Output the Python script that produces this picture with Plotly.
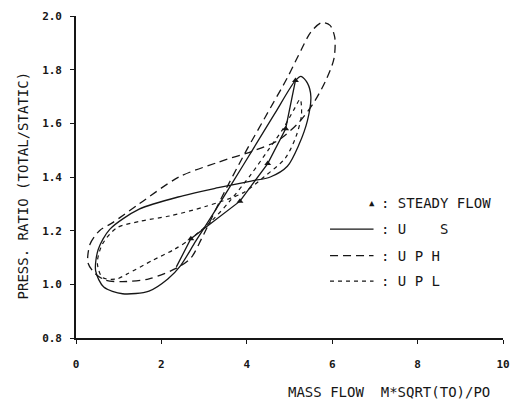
import plotly.graph_objects as go

# ---- data ----
steady_x = [2.35, 2.69, 3.84, 4.49, 4.91, 5.14]
steady_y = [1.065, 1.17, 1.31, 1.45, 1.58, 1.76]
steady_mx = [2.69, 3.84, 4.49, 4.91, 5.14]
steady_my = [1.17, 1.31, 1.45, 1.58, 1.76]

us_x = [5.14, 5.27, 5.42, 5.50, 5.42, 5.22, 4.95, 4.55, 4.10, 3.33, 2.50, 1.48, 0.79, 0.52, 0.46,
        0.65, 1.09, 1.71, 2.15, 2.45, 2.80, 3.20, 3.65, 4.15, 4.65, 5.14]
us_y = [1.76, 1.775, 1.75, 1.70, 1.61, 1.52, 1.44, 1.40, 1.385, 1.36, 1.33, 1.28, 1.205, 1.13, 1.05,
        0.99, 0.965, 0.975, 1.02, 1.07, 1.16, 1.26, 1.375, 1.505, 1.635, 1.76]

uph_x = [0.28, 0.33, 0.55, 0.86, 1.48, 2.41, 3.33, 4.20, 4.72, 5.20, 5.58, 5.85, 6.04, 6.06, 5.95,
         5.75, 5.50, 5.20, 4.95, 4.42, 3.96, 3.40, 2.94, 2.70, 2.41, 1.71, 1.09, 0.70, 0.45, 0.28]
uph_y = [1.08, 1.15, 1.20, 1.23, 1.30, 1.40, 1.455, 1.50, 1.535, 1.60, 1.68, 1.76, 1.84, 1.92, 1.965,
         1.975, 1.94, 1.85, 1.77, 1.62, 1.49, 1.32, 1.17, 1.10, 1.065, 1.02, 1.01, 1.015, 1.04, 1.08]

upl_x = [2.69, 3.20, 3.60, 4.10, 4.50, 4.85, 5.10, 5.25, 5.28, 5.15, 4.90, 4.40, 3.90, 3.03, 2.20,
         1.50, 0.95, 0.62, 0.50, 0.62, 0.95, 1.18, 1.80, 2.30, 2.69]
upl_y = [1.17, 1.24, 1.31, 1.41, 1.50, 1.58, 1.65, 1.69, 1.63, 1.55, 1.47, 1.40, 1.34, 1.29, 1.255,
         1.235, 1.21, 1.15, 1.08, 1.025, 1.02, 1.037, 1.09, 1.13, 1.17]

x_ticks = [0, 2, 4, 6, 8, 10]
y_ticks = [0.8, 1.0, 1.2, 1.4, 1.6, 1.8, 2.0]

legend_labels = [": STEADY FLOW", ": U    S", ": U P H", ": U P L"]

INK = "#161616"
FONT = "DejaVu Sans Mono"

fig = go.Figure()
fig.add_trace(go.Scatter(x=us_x, y=us_y, mode="lines", line=dict(color=INK, width=1.3, shape="spline", smoothing=0.8)))
fig.add_trace(go.Scatter(x=uph_x, y=uph_y, mode="lines", line=dict(color=INK, width=1.3, dash="8px,5px", shape="spline", smoothing=0.8)))
fig.add_trace(go.Scatter(x=upl_x, y=upl_y, mode="lines", line=dict(color=INK, width=1.2, dash="4px,4px", shape="spline", smoothing=0.8)))
fig.add_trace(go.Scatter(x=steady_x, y=steady_y, mode="lines", line=dict(color=INK, width=1.3)))
fig.add_trace(go.Scatter(x=steady_mx, y=steady_my, mode="markers",
                         marker=dict(symbol="triangle-up", size=6, color=INK)))

W, H = 520, 409
L, R, T, B = 76, 12, 10, 71
pw, ph = W - L - R, H - T - B


def px(xp):
    return (xp - L) / pw


def py(yp):
    return (H - B - yp) / ph


rows = [200, 227, 254, 280]
dashes = [None, "solid", "8px,5px", "4px,4px"]
shapes = []
annotations = []
for i, (ry, lab) in enumerate(zip(rows, legend_labels)):
    if dashes[i] is None:
        annotations.append(dict(x=px(375), y=py(ry), xref="paper", yref="paper", text="▲",
                                showarrow=False, font=dict(family=FONT, size=9, color=INK),
                                xanchor="center", yanchor="middle"))
    else:
        shapes.append(dict(type="line", xref="paper", yref="paper", x0=px(333), x1=px(377),
                           y0=py(ry), y1=py(ry), line=dict(color=INK, width=1.3, dash=dashes[i])))
    annotations.append(dict(x=px(383), y=py(ry), xref="paper", yref="paper", text=lab,
                            showarrow=False, font=dict(family=FONT, size=14, color=INK),
                            xanchor="left", yanchor="middle"))

annotations.append(dict(x=px(393), y=py(393), xref="paper", yref="paper",
                        text="MASS FLOW  M*SQRT(TO)/PO", showarrow=False,
                        font=dict(family=FONT, size=14, color=INK), xanchor="center", yanchor="middle"))
annotations.append(dict(x=px(22), y=py(183), xref="paper", yref="paper",
                        text="PRESS. RATIO (TOTAL/STATIC)", showarrow=False, textangle=-90,
                        font=dict(family=FONT, size=14, color=INK), xanchor="center", yanchor="middle"))

fig.update_layout(
    width=W, height=H,
    margin=dict(l=L, r=R, t=T, b=B, pad=0),
    paper_bgcolor="white", plot_bgcolor="white",
    showlegend=False,
    shapes=shapes, annotations=annotations,
    xaxis=dict(range=[0, 10], tickvals=x_ticks, ticktext=[str(v) for v in x_ticks],
               showgrid=False, zeroline=False, showline=True, linecolor=INK, linewidth=1.6,
               ticks="outside", ticklen=4, tickcolor=INK, ticklabelstandoff=11,
               tickfont=dict(family=FONT, size=11, color=INK, weight="bold")),
    yaxis=dict(range=[0.8, 2.0], tickvals=y_ticks, ticktext=[f"{v:.1f}" for v in y_ticks],
               showgrid=False, zeroline=False, showline=True, linecolor=INK, linewidth=1.6,
               ticks="outside", ticklen=4, tickcolor=INK, ticklabelstandoff=6,
               tickfont=dict(family=FONT, size=11, color=INK, weight="bold")),
)

fig.write_html("out.html")
